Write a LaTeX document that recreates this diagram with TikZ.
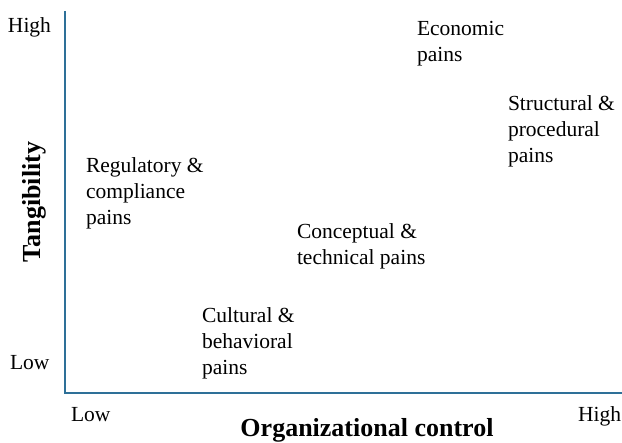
\documentclass[tikz,border=0pt]{standalone}
\usepackage{fontspec}
\setmainfont{Liberation Serif}
\definecolor{axisblue}{RGB}{46,112,152}
\begin{document}
\begin{tikzpicture}[x=1pt,y=-1pt,
  every node/.style={inner sep=0pt, outer sep=0pt},
  tick/.style={anchor=base west, font=\fontsize{21.5}{26}\selectfont},
  pain/.style={anchor=base west, align=left, font=\fontsize{21.5}{26}\selectfont},
  axistitle/.style={font=\fontsize{26}{30}\selectfont\bfseries},
  axisline/.style={draw=axisblue, line width=2pt}]
  \useasboundingbox (0,0) rectangle (622,443);
  % axes
  \coordinate (ytop) at (65,11);
  \coordinate (origin) at (65,393);
  \coordinate (xend) at (622,393);
  \draw[axisline] (ytop) -- (origin) -- (xend);
  % tick labels
  \node[tick] (yhigh) at (8,33) {High};
  \node[tick] (ylow) at (10,370) {Low};
  \node[tick] (xlow) at (71,422) {Low};
  \node[tick] (xhigh) at (578,422) {High};
  % axis titles
  \node[axistitle, anchor=base] (xtitle) at (367,437) {Organizational control};
  \node[axistitle, anchor=base, rotate=90] (ytitle) at (41,202) {Tangibility};
  % categories (placed by the baseline of their last line)
  \node[pain] (regulatory) at (86,225) {Regulatory \&\\compliance\\pains};
  \node[pain] (economic) at (417,62) {Economic\\pains};
  \node[pain] (structural) at (508,163) {Structural \&\\procedural\\pains};
  \node[pain] (conceptual) at (297,265) {Conceptual \&\\technical pains};
  \node[pain] (cultural) at (202,375) {Cultural \&\\behavioral\\pains};
\end{tikzpicture}
\end{document}
